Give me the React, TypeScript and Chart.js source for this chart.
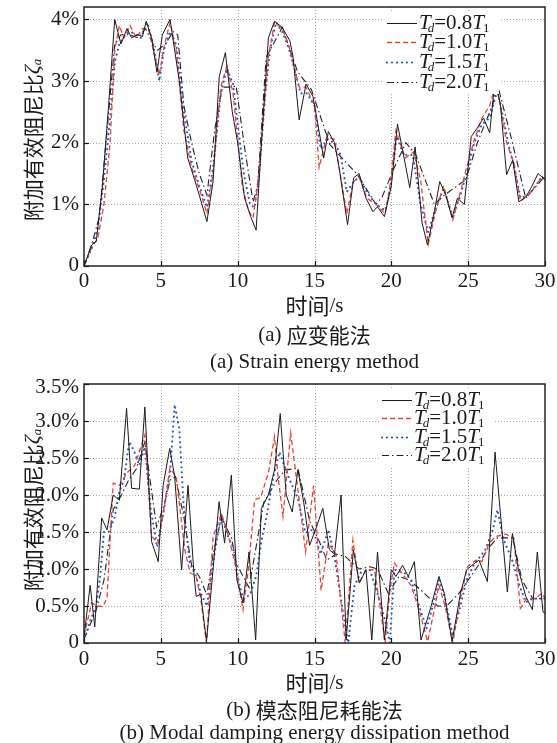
import React, { useEffect, useRef } from 'react';
import { Chart, registerables } from 'chart.js';
Chart.register(...registerables);

// ---------- data ----------
const xTicks = [0, 5, 10, 15, 20, 25, 30];
const yTicksA = [0, 1, 2, 3, 4];
const yTicksB = [0, 0.5, 1, 1.5, 2, 2.5, 3, 3.5];
const seriesLabels = ['0.8', '1.0', '1.5', '2.0'];

// (a) strain energy method  [time s, ratio %]
const a08 = [[0,0],[0.5,0.34],[0.8,0.4],[1.2,1.3],[1.6,2.6],[2.0,4.0],[2.4,3.6],[2.8,3.85],[3.1,3.7],[3.5,3.75],[3.8,3.72],[4.05,3.97],[4.4,3.7],[4.75,3.14],[5.1,3.75],[5.6,4.0],[6.2,3.0],[6.75,1.75],[7.2,1.4],[7.5,1.15],[8.0,0.72],[8.4,1.37],[8.8,3.07],[9.2,3.46],[9.65,2.5],[10.0,2.0],[10.45,1.1],[10.85,0.8],[11.2,0.58],[11.6,2.2],[12.0,3.7],[12.4,3.97],[12.9,3.87],[13.4,3.65],[13.6,3.4],[14.0,2.37],[14.45,2.95],[14.9,2.75],[15.3,2.18],[15.6,1.75],[15.9,2.18],[16.3,2.0],[16.6,1.6],[17.15,0.67],[17.55,1.43],[17.9,1.5],[18.35,1.1],[18.8,0.88],[19.1,0.96],[19.55,0.8],[20.0,1.3],[20.4,2.3],[20.7,1.92],[21.2,1.27],[21.55,1.93],[22.0,0.7],[22.35,0.34],[22.8,0.88],[23.15,1.37],[23.55,1.15],[23.95,0.78],[24.3,1.1],[24.75,1.0],[25.2,2.1],[25.6,2.24],[26.0,2.4],[26.4,2.16],[26.75,3.02],[27.1,2.62],[27.5,1.48],[27.9,1.72],[28.3,1.04],[28.75,1.12],[29.1,1.27],[29.55,1.5],[30,1.4]];
const a10 = [[0,0],[0.5,0.3],[0.9,0.45],[1.3,1.0],[1.7,2.0],[2.0,3.5],[2.3,3.9],[2.6,3.7],[3.0,3.9],[3.4,3.7],[3.8,3.85],[4.2,3.85],[4.6,3.4],[4.9,3.1],[5.2,3.55],[5.6,3.95],[6.0,3.5],[6.5,2.2],[7.0,1.6],[7.5,1.25],[8.0,0.85],[8.4,1.5],[8.9,2.9],[9.3,3.24],[9.7,2.8],[10.0,2.05],[10.3,1.3],[10.7,0.9],[11.0,0.78],[11.3,1.3],[11.7,2.5],[12.0,3.4],[12.4,3.95],[12.9,3.85],[13.3,3.6],[13.7,3.2],[14.0,2.9],[14.45,2.9],[15.0,2.6],[15.3,1.6],[15.8,2.1],[16.3,2.05],[16.6,1.6],[17.1,0.85],[17.5,1.35],[17.9,1.45],[18.4,1.1],[19.0,1.0],[19.6,0.85],[19.9,1.28],[20.3,2.2],[20.9,1.75],[21.45,1.85],[21.9,1.4],[22.4,0.35],[22.9,0.9],[23.4,1.3],[24.0,0.75],[24.5,1.2],[24.9,1.6],[25.4,2.05],[25.9,2.4],[26.4,2.6],[26.8,2.95],[27.1,2.6],[27.5,2.0],[28.0,1.65],[28.4,1.05],[28.9,1.15],[29.4,1.3],[29.8,1.45],[30,1.4]];
const a15 = [[0,0],[0.5,0.28],[0.9,0.6],[1.3,1.4],[1.7,2.4],[2.0,3.3],[2.3,3.6],[2.7,3.75],[3.0,3.8],[3.4,3.75],[3.7,3.7],[4.1,3.95],[4.5,3.6],[4.9,3.0],[5.2,3.5],[5.6,3.8],[6.0,3.6],[6.5,2.5],[7.0,1.7],[7.5,1.3],[8.0,0.95],[8.4,1.6],[8.9,2.8],[9.3,3.2],[9.7,2.95],[10.1,2.1],[10.4,1.5],[10.8,1.0],[11.1,0.95],[11.4,1.5],[11.8,2.8],[12.1,3.5],[12.5,3.95],[12.9,3.8],[13.3,3.55],[13.7,3.2],[14.1,2.8],[14.5,2.8],[15.0,2.6],[15.4,1.9],[15.8,2.05],[16.3,2.0],[16.7,1.8],[17.1,1.2],[17.5,1.35],[17.9,1.45],[18.4,1.2],[19.0,1.0],[19.6,0.9],[19.9,1.2],[20.35,2.1],[20.8,1.8],[21.4,1.8],[21.9,1.0],[22.4,0.55],[22.9,0.95],[23.4,1.25],[24.0,0.8],[24.5,1.15],[24.9,1.5],[25.4,2.0],[25.9,2.3],[26.4,2.4],[26.9,2.85],[27.2,2.5],[27.6,2.0],[28.0,1.6],[28.4,1.1],[28.9,1.15],[29.4,1.3],[29.8,1.45],[30,1.4]];
const a20 = [[0,0],[0.5,0.35],[1.0,0.8],[1.5,2.2],[2.0,3.6],[2.4,3.75],[3.0,3.75],[3.5,3.7],[4.0,3.85],[4.5,3.6],[4.8,3.5],[5.3,3.6],[5.8,3.8],[6.1,3.75],[6.5,2.6],[7.0,2.0],[7.5,1.5],[8.0,1.15],[8.5,2.2],[9.0,2.9],[9.6,2.9],[9.9,2.92],[10.45,1.92],[11.0,1.04],[11.3,1.3],[11.85,3.38],[12.9,3.87],[13.9,3.15],[14.8,2.86],[16.0,1.97],[16.8,1.75],[17.8,1.48],[19.0,1.0],[19.4,1.12],[20.2,1.6],[20.95,2.0],[21.6,1.8],[22.8,1.0],[23.45,1.15],[24.85,1.4],[25.6,2.0],[26.6,2.62],[26.9,2.95],[27.8,2.08],[28.75,1.1],[29.8,1.4],[30,1.45]];

// (b) modal damping energy dissipation method  [time s, ratio %]
const b08 = [[0,0.08],[0.4,0.78],[0.7,0.22],[1.15,1.69],[1.5,1.53],[1.9,2.0],[2.3,1.93],[2.77,3.17],[3.1,2.09],[3.6,2.08],[3.96,3.19],[4.4,1.37],[4.83,1.1],[5.15,2.13],[5.58,2.63],[5.9,2.25],[6.35,0.99],[6.77,2.13],[7.15,0.95],[7.3,0.63],[7.6,0.66],[7.97,0.02],[8.4,1.0],[8.79,1.91],[9.15,1.35],[9.59,2.27],[9.95,0.85],[10.35,0.54],[10.74,1.23],[11.17,0.04],[11.54,1.82],[12.0,2.0],[12.4,2.34],[12.77,3.1],[13.16,2.0],[13.55,1.77],[13.92,2.34],[14.3,1.9],[14.68,1.32],[15.1,1.55],[15.54,1.82],[15.97,1.26],[16.3,1.2],[16.73,2.0],[17.06,0.04],[17.53,1.26],[17.92,0.81],[18.35,0.99],[18.73,0.04],[19.1,1.23],[19.55,0.04],[20.0,0.99],[20.3,0.9],[20.73,1.05],[21.1,0.9],[21.5,1.1],[21.93,0.04],[22.58,0.49],[23.1,0.9],[23.45,0.67],[23.95,0.02],[24.5,0.67],[24.9,0.99],[25.25,1.05],[25.7,1.12],[26.25,0.83],[26.75,2.58],[27.1,1.75],[27.55,0.69],[27.88,1.48],[28.27,0.99],[28.75,0.63],[29.18,0.45],[29.5,1.23],[29.87,0.42],[30,0.4]];
const b10 = [[0,0.1],[0.5,0.54],[0.9,0.5],[1.25,0.49],[1.5,0.62],[1.9,2.16],[2.3,2.13],[2.8,2.3],[3.3,2.4],[3.96,2.81],[4.4,1.44],[4.83,1.35],[5.2,1.8],[5.58,2.36],[6.0,2.25],[6.56,1.26],[6.9,0.95],[7.3,0.9],[7.6,0.6],[7.97,0.0],[8.4,1.44],[8.94,1.75],[9.4,1.45],[9.9,1.0],[10.35,0.45],[10.7,1.0],[11.1,1.93],[11.5,1.97],[12.0,2.3],[12.4,2.79],[12.6,2.3],[12.95,1.71],[13.45,2.84],[13.92,2.07],[14.42,1.23],[14.94,2.13],[15.43,0.71],[15.9,1.35],[16.4,1.2],[17.0,0.0],[17.5,1.39],[17.9,0.81],[18.35,0.99],[18.9,0.99],[19.3,0.45],[19.6,0.0],[19.9,0.7],[20.2,1.08],[20.7,0.94],[21.28,0.78],[21.8,0.45],[22.36,0.02],[22.8,0.45],[23.1,0.78],[23.5,0.5],[24.0,0.0],[24.5,0.6],[24.95,1.03],[25.5,1.12],[25.9,1.1],[26.36,1.35],[26.8,1.44],[27.45,1.47],[27.97,1.42],[28.4,0.47],[28.8,0.6],[29.35,0.6],[29.8,0.67],[30,0.6]];
const b15 = [[0,0.05],[0.4,0.3],[0.8,0.5],[1.05,0.9],[1.3,1.5],[1.6,1.5],[2.0,1.7],[2.3,2.05],[2.6,2.2],[2.94,2.72],[3.25,2.6],[3.6,2.4],[3.96,2.65],[4.35,1.8],[4.75,1.3],[5.2,1.8],[5.6,2.3],[5.9,3.22],[6.2,2.9],[6.5,1.8],[6.88,1.08],[7.3,0.9],[7.6,0.67],[8.0,0.5],[8.5,1.22],[8.94,1.75],[9.25,1.5],[9.7,1.3],[10.0,0.9],[10.35,0.6],[10.8,0.65],[11.2,0.9],[11.54,1.37],[11.9,1.73],[12.3,2.23],[12.72,2.58],[13.1,2.36],[13.4,2.2],[13.92,1.95],[14.4,1.49],[14.9,1.53],[15.4,1.2],[15.9,1.53],[16.3,1.17],[16.9,0.35],[17.2,0.0],[17.6,0.77],[18.0,0.95],[18.6,0.99],[19.1,0.67],[19.6,0.3],[19.9,0.0],[20.2,0.99],[20.9,0.94],[21.3,0.85],[21.8,0.5],[22.3,0.2],[22.7,0.5],[23.1,0.85],[23.5,0.6],[24.0,0.1],[24.5,0.5],[24.9,0.85],[25.4,1.07],[26.1,1.25],[26.6,1.53],[26.9,1.8],[27.3,1.4],[27.9,1.1],[28.3,0.8],[28.75,0.55],[29.2,0.6],[29.8,0.6],[30,0.6]];
const b20 = [[0,0.05],[0.8,0.45],[1.3,0.85],[1.9,1.8],[2.44,2.0],[2.9,2.2],[3.4,2.35],[3.96,2.72],[4.72,1.57],[5.2,1.85],[5.6,2.2],[5.95,2.25],[6.5,1.7],[7.0,1.05],[7.5,0.9],[8.0,0.65],[8.4,1.2],[8.94,1.7],[9.6,1.42],[9.9,1.08],[10.35,0.9],[10.74,0.75],[11.2,1.3],[11.7,1.9],[12.55,2.2],[13.1,2.34],[13.92,2.36],[14.7,1.64],[15.3,1.38],[15.8,1.12],[16.4,1.2],[17.0,1.17],[17.9,1.0],[18.6,1.03],[19.1,1.0],[19.8,0.67],[20.5,0.9],[21.2,0.85],[22.0,0.7],[23.0,0.5],[23.6,0.5],[24.4,0.67],[25.0,0.85],[25.6,1.03],[26.3,1.28],[26.9,1.42],[27.9,1.42],[28.5,0.85],[29.2,0.6],[29.8,0.6],[30,0.6]];

// ---------- styling ----------
const SERIF = '"Liberation Serif", "Times New Roman", serif';
const CJK = '"Noto Sans CJK SC", sans-serif';
const TXT = '#1a1a1a';

const styles = [
  { color: '#1a1a1a', width: 1, dash: [] as number[], cap: 'butt' },
  { color: '#f0402e', width: 1.3, dash: [5, 3], cap: 'butt' },
  { color: '#2256d0', width: 2.2, dash: [0, 5], cap: 'round' },
  { color: '#222222', width: 1.1, dash: [7, 3, 1.5, 3], cap: 'butt' },
];

type Seg = { t: string; f: string; dy?: number; dx?: number };

function drawRich(ctx: CanvasRenderingContext2D, segs: Seg[], x: number, y: number, align: 'left' | 'center') {
  const widths = segs.map((s) => {
    ctx.font = s.f;
    return ctx.measureText(s.t).width + (s.dx || 0);
  });
  const total = widths.reduce((a, b) => a + b, 0);
  let cx = align === 'center' ? x - total / 2 : x;
  ctx.textBaseline = 'middle';
  ctx.textAlign = 'left';
  segs.forEach((s, i) => {
    ctx.font = s.f;
    ctx.fillText(s.t, cx + (s.dx || 0), y + (s.dy || 0));
    cx += widths[i];
  });
}

interface Spec {
  height: number;
  top: number;
  bottom: number;
  yMax: number;
  yTicks: number[];
  yFmt: (v: number) => string;
  series: number[][][];
  legend: { x0: number; x1: number; tx: number; rows: number[] };
  tag: string;
  zh: string;
  en: string;
  xLabelDy: number;
  xTitleY: number;
  cap1Y: number;
  cap2Y: number;
  yTitleY: number;
}

function makePlugin(spec: Spec) {
  return {
    id: 'deco',
    beforeDatasetsDraw(chart: any) {
      const { ctx, chartArea, scales } = chart;
      const { left, right, top, bottom } = chartArea;
      ctx.save();
      ctx.strokeStyle = '#a8a8a8';
      ctx.lineWidth = 1;
      ctx.setLineDash([1, 2]);
      xTicks.forEach((v) => {
        if (v <= 0 || v >= 30) return;
        const px = Math.round(scales.x.getPixelForValue(v)) + 0.5;
        ctx.beginPath();
        ctx.moveTo(px, top);
        ctx.lineTo(px, bottom);
        ctx.stroke();
      });
      spec.yTicks.forEach((v) => {
        if (v <= 0 || v >= spec.yMax) return;
        const py = Math.round(scales.y.getPixelForValue(v)) + 0.5;
        ctx.beginPath();
        ctx.moveTo(left, py);
        ctx.lineTo(right, py);
        ctx.stroke();
      });
      ctx.restore();
    },
    afterDraw(chart: any) {
      const { ctx, chartArea, scales } = chart;
      const { left, right, top, bottom } = chartArea;
      ctx.save();
      // inner tick marks
      ctx.strokeStyle = '#111';
      ctx.lineWidth = 1.2;
      xTicks.forEach((v) => {
        const px = Math.round(scales.x.getPixelForValue(v)) + 0.5;
        ctx.beginPath();
        ctx.moveTo(px, bottom);
        ctx.lineTo(px, bottom - 5);
        ctx.stroke();
      });
      spec.yTicks.forEach((v) => {
        const py = Math.round(scales.y.getPixelForValue(v)) + 0.5;
        ctx.beginPath();
        ctx.moveTo(left, py);
        ctx.lineTo(left + 5, py);
        ctx.stroke();
      });
      // frame
      ctx.strokeStyle = '#222';
      ctx.lineWidth = 1.5;
      ctx.strokeRect(left, top, right - left, bottom - top);

      // tick labels (positioned by the chart's scales)
      ctx.fillStyle = TXT;
      ctx.font = `21px ${SERIF}`;
      ctx.textBaseline = 'middle';
      ctx.textAlign = 'center';
      xTicks.forEach((v) => {
        ctx.fillText(String(v), scales.x.getPixelForValue(v), bottom + spec.xLabelDy);
      });
      ctx.textAlign = 'right';
      spec.yTicks.forEach((v) => {
        let dy = 0;
        if (v === 0) dy = -1;
        if (v >= spec.yMax) dy = 3;
        ctx.fillText(spec.yFmt(v), left - 5, scales.y.getPixelForValue(v) + dy);
      });

      // legend
      const L = spec.legend;
      const rows = L.rows;
      ctx.fillStyle = '#fff';
      ctx.fillRect(L.x0 - 3, rows[0] - 10, L.tx + 80 - (L.x0 - 3), rows[rows.length - 1] - rows[0] + 22);
      seriesLabels.forEach((lab, i) => {
        const st = styles[i];
        ctx.strokeStyle = st.color;
        ctx.lineWidth = st.width;
        ctx.setLineDash(st.dash);
        ctx.lineCap = st.cap as CanvasLineCap;
        ctx.beginPath();
        ctx.moveTo(L.x0, rows[i] + 0.5);
        ctx.lineTo(L.x1, rows[i] + 0.5);
        ctx.stroke();
        ctx.setLineDash([]);
        ctx.lineCap = 'butt';
        ctx.fillStyle = TXT;
        drawRich(
          ctx,
          [
            { t: 'T', f: `italic 21px ${SERIF}` },
            { t: 'd', f: `italic 13px ${SERIF}`, dy: 6, dx: -3 },
            { t: '=' + lab, f: `21px ${SERIF}` },
            { t: 'T', f: `italic 21px ${SERIF}` },
            { t: '1', f: `13px ${SERIF}`, dy: 6, dx: -1 },
          ],
          L.tx,
          rows[i],
          'left'
        );
      });

      ctx.fillStyle = TXT;
      const cx = (left + right) / 2;
      // x title
      drawRich(ctx, [{ t: '时间', f: `22px ${CJK}` }, { t: '/s', f: `21px ${SERIF}` }], cx, spec.xTitleY, 'center');
      // captions
      drawRich(ctx, [{ t: `(${spec.tag}) `, f: `21px ${SERIF}` }, { t: spec.zh, f: `21px ${CJK}` }], cx, spec.cap1Y, 'center');
      drawRich(ctx, [{ t: `(${spec.tag}) ${spec.en}`, f: `21px ${SERIF}` }], cx, spec.cap2Y, 'center');
      // y title
      ctx.translate(33, spec.yTitleY);
      ctx.rotate(-Math.PI / 2);
      drawRich(
        ctx,
        [
          { t: '附加有效阻尼比', f: `21px ${CJK}` },
          { t: 'ζ', f: `italic 22px ${SERIF}` },
          { t: 'a', f: `italic 13px ${SERIF}`, dy: 5 },
        ],
        0,
        0,
        'center'
      );
      ctx.restore();
    },
  };
}

function Panel({ spec }: { spec: Spec }) {
  const ref = useRef<HTMLCanvasElement>(null);
  useEffect(() => {
    const canvas = ref.current;
    if (!canvas) return;
    const chart = new Chart(canvas, {
      type: 'line',
      data: {
        datasets: spec.series.map((s, i) => ({
          label: seriesLabels[i],
          data: s.map(([x, y]) => ({ x, y })),
          borderColor: styles[i].color,
          borderWidth: styles[i].width,
          borderDash: styles[i].dash,
          borderCapStyle: styles[i].cap as CanvasLineCap,
          pointRadius: 0,
          tension: 0,
          fill: false,
        })),
      },
      options: {
        responsive: false,
        animation: false,
        devicePixelRatio: 1,
        layout: { padding: { top: spec.top, right: 12, left: 0, bottom: spec.height - spec.bottom } },
        plugins: { legend: { display: false }, tooltip: { enabled: false } },
        scales: {
          x: {
            type: 'linear',
            min: 0,
            max: 30,
            grid: { display: false },
            border: { display: false },
            ticks: { display: false },
            afterFit: (s: any) => {
              s.height = 0;
            },
          },
          y: {
            type: 'linear',
            min: 0,
            max: spec.yMax,
            grid: { display: false },
            border: { display: false },
            ticks: { display: false },
            afterFit: (s: any) => {
              s.width = 84;
            },
          },
        },
      },
      plugins: [makePlugin(spec)],
    } as any);
    return () => chart.destroy();
  }, [spec]);
  return <canvas ref={ref} width={557} height={spec.height} style={{ display: 'block', width: 557, height: spec.height }} />;
}

const specA: Spec = {
  height: 372,
  top: 7,
  bottom: 266,
  yMax: 4.2,
  yTicks: yTicksA,
  yFmt: (v) => (v === 0 ? '0' : `${v}%`),
  series: [a08, a10, a15, a20],
  legend: { x0: 387, x1: 417, tx: 419, rows: [23, 42, 62, 82] },
  tag: 'a',
  zh: '应变能法',
  en: 'Strain energy method',
  xLabelDy: 15,
  xTitleY: 306,
  cap1Y: 335,
  cap2Y: 362,
  yTitleY: 140,
};

const specB: Spec = {
  height: 371,
  top: 12,
  bottom: 271,
  yMax: 3.5,
  yTicks: yTicksB,
  yFmt: (v) => (v === 0 ? '0' : `${v.toFixed(1)}%`),
  series: [b08, b10, b15, b20],
  legend: { x0: 382, x1: 412, tx: 414, rows: [28, 46, 65, 83] },
  tag: 'b',
  zh: '模态阻尼耗能法',
  en: 'Modal damping energy dissipation method',
  xLabelDy: 16,
  xTitleY: 311,
  cap1Y: 338,
  cap2Y: 361,
  yTitleY: 138,
};

export default function App() {
  return (
    <div style={{ position: 'absolute', left: 0, top: 0, width: 557, height: 743, background: '#fff' }}>
      <Panel spec={specA} />
      <Panel spec={specB} />
    </div>
  );
}
